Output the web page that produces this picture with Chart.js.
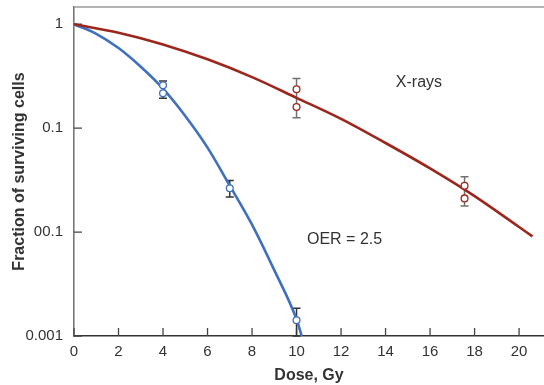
<!DOCTYPE html>
<html>
<head>
<meta charset="utf-8">
<script src="https://cdn.jsdelivr.net/npm/chart.js@4.4.1/dist/chart.umd.min.js"></script>
<style>
  html, body { margin: 0; padding: 0; background: #fff; }
  #wrap { width: 544px; height: 385px; position: relative; }
</style>
</head>
<body>
<div id="wrap"><canvas id="survivalChart"></canvas></div>
<script>
// smooth survival curves
var redCurveDose = [0, 2, 4, 6, 8, 10, 12, 14, 16, 18, 20, 20.6];
var redCurveSurv = [1, 0.83, 0.64, 0.46, 0.31, 0.196, 0.123, 0.072, 0.041, 0.0222, 0.0112, 0.0091];
var blueCurveDose = [0, 1, 2, 3, 4, 5, 6, 7, 8, 9, 10, 10.23];
var blueCurveSurv = [1, 0.81, 0.59, 0.39, 0.24, 0.131, 0.065, 0.028, 0.0118, 0.0043, 0.00145, 0.001];

// measured points (open circles)
var redPtDose = [10, 10, 17.55, 17.55];
var redPtSurv = [0.237, 0.160, 0.0279, 0.0211];
var bluePtDose = [4, 4, 7, 10];
var bluePtSurv = [0.259, 0.217, 0.0264, 0.00142];

// error bars
var redBarDose = [10, 17.55];
var redBarLow = [0.126, 0.0178];
var redBarHigh = [0.30, 0.0341];
var blueBarDose = [4, 7, 10];
var blueBarLow = [0.194, 0.0218, 0.001];
var blueBarHigh = [0.285, 0.0313, 0.00185];

// ticks
var xTickVals = [0, 2, 4, 6, 8, 10, 12, 14, 16, 18, 20];
var yTickVals = [1, 0.1, 0.01, 0.001];
var yTickLabels = ['1', '0.1', '00.1', '0.001'];

var RED = '#9c261b';
var BLUE = '#3f6fc0';
var FONT = '"Liberation Sans", Arial, Helvetica, sans-serif';

function toXY(xs, ys) {
    return xs.map(function (v, i) { return {x: v, y: ys[i]}; });
}

// no extra room for overhanging tick labels
function noPad(scale) {
    scale.paddingTop = 0;
    scale.paddingBottom = 0;
    scale.paddingLeft = 0;
    scale.paddingRight = 0;
}

var overlay = {
    id: 'overlay',
    beforeDatasetsDraw: function (chart) {
        var ctx = chart.ctx, a = chart.chartArea;
        var x = chart.scales.x, y = chart.scales.y;
        ctx.save();
        // top frame line
        ctx.strokeStyle = '#9a9a9a';
        ctx.lineWidth = 1.5;
        ctx.beginPath();
        ctx.moveTo(a.left, a.top);
        ctx.lineTo(a.right, a.top);
        ctx.stroke();

        // inward tick marks
        ctx.strokeStyle = '#444';
        ctx.lineWidth = 1.3;
        ctx.beginPath();
        xTickVals.forEach(function (v) {
            var px = x.getPixelForValue(v);
            ctx.moveTo(px, a.bottom);
            ctx.lineTo(px, a.bottom - 8);
        });
        yTickVals.forEach(function (v) {
            var py = y.getPixelForValue(v);
            ctx.moveTo(a.left, py);
            ctx.lineTo(a.left + 8, py);
        });
        ctx.stroke();

        // error bars
        function bars(dose, lo, hi, color) {
            ctx.strokeStyle = color;
            ctx.lineWidth = 1.5;
            ctx.beginPath();
            dose.forEach(function (d, i) {
                var px = x.getPixelForValue(d);
                var p1 = y.getPixelForValue(lo[i]);
                var p2 = y.getPixelForValue(hi[i]);
                ctx.moveTo(px, p1); ctx.lineTo(px, p2);
                ctx.moveTo(px - 4, p1); ctx.lineTo(px + 4, p1);
                ctx.moveTo(px - 4, p2); ctx.lineTo(px + 4, p2);
            });
            ctx.stroke();
        }
        bars(redBarDose, redBarLow, redBarHigh, '#707070');
        bars(blueBarDose, blueBarLow, blueBarHigh, '#333');
        ctx.restore();
    },
    afterDatasetsDraw: function (chart) {
        var ctx = chart.ctx;
        var x = chart.scales.x, y = chart.scales.y;
        ctx.save();
        ctx.fillStyle = '#333';
        ctx.font = '16px ' + FONT;
        ctx.textBaseline = 'middle';
        ctx.textAlign = 'center';
        ctx.fillText('X-rays', x.getPixelForValue(15.5), y.getPixelForValue(0.277));
        ctx.textAlign = 'left';
        ctx.fillText('OER = 2.5', x.getPixelForValue(10.47), y.getPixelForValue(0.00838));
        ctx.restore();
    }
};

var ctx = document.getElementById('survivalChart').getContext('2d');
var survivalChart = new Chart(ctx, {
    type: 'scatter',
    data: {
        datasets: [
            {
                label: 'X-rays points',
                data: toXY(redPtDose, redPtSurv),
                pointRadius: 3.4,
                pointBorderWidth: 1.3,
                pointBackgroundColor: '#fff',
                pointBorderColor: RED
            },
            {
                label: 'Hypoxic points',
                data: toXY(bluePtDose, bluePtSurv),
                pointRadius: 3.4,
                pointBorderWidth: 1.3,
                pointBackgroundColor: '#fff',
                pointBorderColor: BLUE
            },
            {
                label: 'X-rays',
                data: toXY(redCurveDose, redCurveSurv),
                showLine: true,
                pointRadius: 0,
                borderColor: RED,
                borderWidth: 2.6,
                cubicInterpolationMode: 'monotone'
            },
            {
                label: 'Hypoxic',
                data: toXY(blueCurveDose, blueCurveSurv),
                showLine: true,
                pointRadius: 0,
                borderColor: BLUE,
                borderWidth: 2.6,
                cubicInterpolationMode: 'monotone'
            }
        ]
    },
    options: {
        responsive: true,
        maintainAspectRatio: false,
        animation: false,
        layout: { autoPadding: false, padding: { top: 7, right: 0, left: 0, bottom: 0 } },
        plugins: {
            legend: { display: false },
            tooltip: { enabled: false }
        },
        scales: {
            x: {
                type: 'linear',
                min: 0,
                max: 21.12,
                afterBuildTicks: function (scale) {
                    scale.ticks = xTickVals.map(function (v) { return {value: v}; });
                },
                afterFit: function (scale) { scale.height = 49; noPad(scale); },
                grid: { display: false, drawTicks: false },
                border: { display: true, color: '#333', width: 1.6 },
                ticks: {
                    autoSkip: false,
                    maxRotation: 0,
                    padding: 7,
                    color: '#333',
                    font: { family: FONT, size: 15 }
                },
                title: {
                    display: true,
                    text: 'Dose, Gy',
                    color: '#333',
                    padding: { top: 0, bottom: 0 },
                    font: { family: FONT, size: 16, weight: 'bold' }
                }
            },
            y: {
                type: 'logarithmic',
                min: 0.001,
                max: 1.466,
                afterBuildTicks: function (scale) {
                    scale.ticks = yTickVals.map(function (v) { return {value: v}; });
                },
                afterFit: function (scale) { scale.width = 74; noPad(scale); },
                grid: { display: false, drawTicks: false },
                border: { display: true, color: '#777', width: 1.6 },
                ticks: {
                    autoSkip: false,
                    padding: 11,
                    color: '#333',
                    font: { family: FONT, size: 15 },
                    callback: function (value, index) { return yTickLabels[index]; }
                },
                title: {
                    display: true,
                    text: 'Fraction of surviving cells',
                    color: '#333',
                    padding: { top: 9.5, bottom: 0 },
                    font: { family: FONT, size: 16, weight: 'bold' }
                }
            }
        }
    },
    plugins: [overlay]
});
</script>
</body>
</html>
